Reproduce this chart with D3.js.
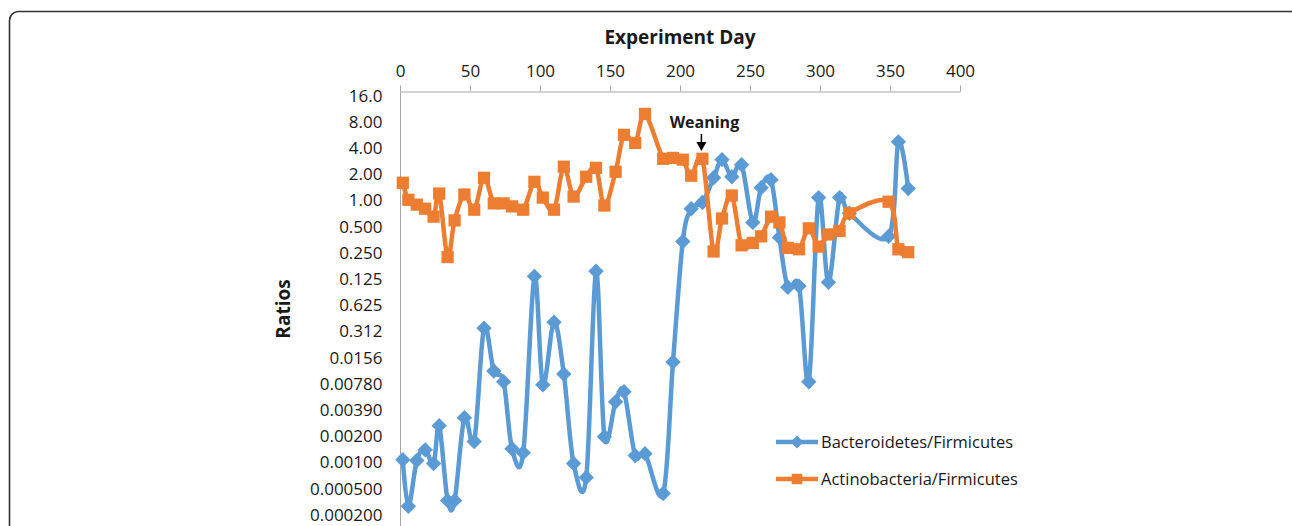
<!doctype html>
<html>
<head>
<meta charset="utf-8">
<script src="https://d3js.org/d3.v7.min.js"></script>
<style>
  body { margin:0; background:#fff; }
  svg { display:block; }
  text { font-family:"Open Sans", sans-serif; fill:#1a1a1a; }
  .tick text { font-size:17px; }
  .axis path, .axis line { stroke:#a6a6a6; }
</style>
</head>
<body>
<script>
// sampling days (shared by both series)
var days = [2,6,12,18,24,28,34,39,46,53,60,67,74,80,88,96,102,110,117,124,
            133,140,146,154,160,168,175,188,195,202,208,216,224,230,237,244,252,258,265,271,
            277,285,292,299,306,314,321,349,356,363];

var bacteroidetes = [0.00103,0.000301,0.00101,0.00134,0.000934,0.00254,0.00035,0.00035,0.00313,0.00167,
                     0.0335,0.0108,0.00811,0.00138,0.00124,0.132,0.0075,0.0393,0.00996,0.000934,
                     0.000644,0.151,0.0019,0.00477,0.00624,0.00115,0.00121,0.000422,0.0137,0.332,
                     0.79,0.93,1.79,2.89,1.84,2.53,0.55,1.38,1.70,0.37,
                     0.099,0.102,0.0081,1.06,0.113,1.06,0.70,0.38,4.63,1.35];

var actinobacteria = [1.57,1.0,0.88,0.79,0.64,1.18,0.22,0.58,1.15,0.77,
                      1.79,0.91,0.91,0.84,0.77,1.61,1.06,0.77,2.40,1.09,
                      1.84,2.33,0.86,2.10,5.58,4.5,9.7,2.96,3.03,2.89,
                      1.89,2.96,0.255,0.61,1.12,0.30,0.32,0.38,0.64,0.55,
                      0.28,0.27,0.47,0.29,0.40,0.44,0.70,0.95,0.27,0.25];

var xTicks = [0,50,100,150,200,250,300,350,400];
var yTickExp = d3.range(4, -13, -1); // powers of two shown on the axis
var yTickLabels = ["16.0","8.00","4.00","2.00","1.00","0.500","0.250","0.125","0.625","0.312",
                   "0.0156","0.00780","0.00390","0.00200","0.00100","0.000500","0.000200"];
var seriesNames = ["Bacteroidetes/Firmicutes","Actinobacteria/Firmicutes"];
var seriesColors = ["#5b9bd5","#ed7d31"];
var weaningDay = 216;

var W = 1292, H = 526;
var svg = d3.select("body").append("svg").attr("width",W).attr("height",H);

// outer frame with rounded corners
svg.append("rect").attr("x",9.5).attr("y",11.5).attr("width",1290).attr("height",560)
   .attr("rx",9).attr("fill","none").attr("stroke","#333").attr("stroke-width",1.6);

var x = d3.scaleLinear().domain([0,400]).range([400,960]);
var y = d3.scaleLog().base(2).domain([16, Math.pow(2,-12)]).range([95, 95+16*26.2]);

// top x axis
var xAxis = svg.append("g").attr("class","axis").attr("transform","translate(0,91.5)")
   .call(d3.axisTop(x).tickValues(xTicks).tickSize(6).tickSizeOuter(0).tickPadding(9));
xAxis.select(".domain").attr("stroke","#a6a6a6");
xAxis.selectAll(".tick text").attr("font-size",17);

// left y axis with the labels as printed
var yAxis = svg.append("g").attr("class","axis").attr("transform","translate(400.5,0)")
   .call(d3.axisLeft(y).tickValues(yTickExp.map(function(e){ return Math.pow(2,e); }))
         .tickFormat(function(d,i){ return yTickLabels[i]; })
         .tickSize(0).tickPadding(18));
yAxis.select(".domain").attr("d","M0,91.5V560");
yAxis.selectAll(".tick text").attr("font-size",18.5).attr("dy","0.36em");

svg.append("text").attr("x",680).attr("y",44).attr("text-anchor","middle")
   .attr("font-size",19).attr("font-weight","bold").text("Experiment Day");
svg.append("text").attr("transform","translate(290,309) rotate(-90)").attr("text-anchor","middle")
   .attr("font-size",19).attr("font-weight","bold").text("Ratios");

var line = d3.line().curve(d3.curveCatmullRom.alpha(0))
   .x(function(d){ return x(d[0]); }).y(function(d){ return y(d[1]); });

var diamond = d3.symbol().type(d3.symbolDiamond2).size(150)();
var square = d3.symbol().type(d3.symbolSquare).size(150)();

var series = [bacteroidetes, actinobacteria];
var shapes = [diamond, square];

series.forEach(function(vals, si){
  var pts = days.map(function(d,i){ return [d, vals[i]]; });
  var g = svg.append("g");
  g.append("path").attr("d", line(pts)).attr("fill","none")
   .attr("stroke",seriesColors[si]).attr("stroke-width",4.5).attr("stroke-linejoin","round");
  g.selectAll("path.m").data(pts).enter().append("path").attr("class","m")
   .attr("d", shapes[si])
   .attr("transform", function(d){ return "translate("+x(d[0])+","+y(d[1])+")"; })
   .attr("fill",seriesColors[si]);
});

// weaning annotation
var wx = x(weaningDay) - 1;
svg.append("text").attr("x",wx+3).attr("y",128).attr("text-anchor","middle")
   .attr("font-size",16).attr("font-weight","bold").text("Weaning");
svg.append("line").attr("x1",wx).attr("x2",wx).attr("y1",134).attr("y2",143)
   .attr("stroke","#000").attr("stroke-width",1.5);
svg.append("path").attr("d","M"+(wx-5)+",142L"+(wx+5)+",142L"+wx+",151Z").attr("fill","#000");

// legend
var legend = svg.append("g");
seriesNames.forEach(function(name, i){
  var ly = 442 + i*37;
  legend.append("line").attr("x1",776).attr("x2",818).attr("y1",ly).attr("y2",ly)
     .attr("stroke",seriesColors[i]).attr("stroke-width",4.5);
  legend.append("path").attr("d", d3.symbol().type(i===0 ? d3.symbolDiamond2 : d3.symbolSquare).size(110)())
     .attr("transform","translate(797,"+ly+")").attr("fill",seriesColors[i]);
  legend.append("text").attr("x",821).attr("y",ly).attr("dy","0.35em")
     .attr("font-size",16.5).text(name);
});
</script>
</body>
</html>
